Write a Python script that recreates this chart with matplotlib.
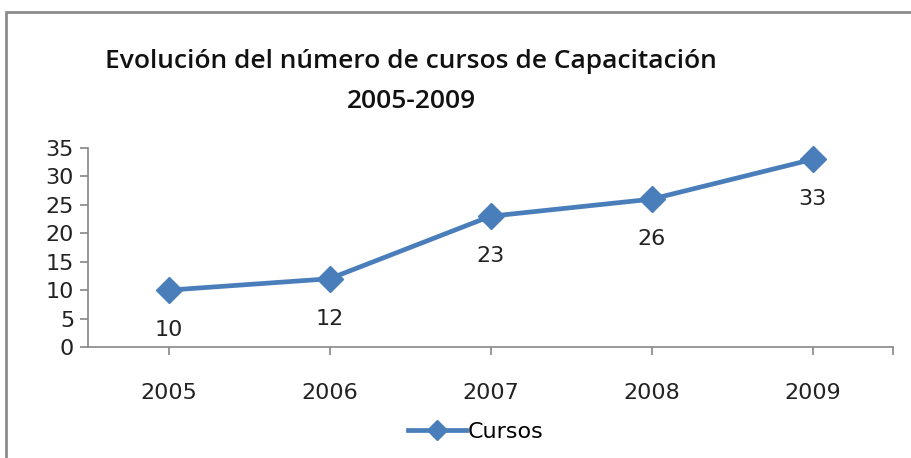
import matplotlib.pyplot as plt
from matplotlib.patches import Rectangle
from matplotlib.lines import Line2D

# data
years = ['2005', '2006', '2007', '2008', '2009']
cursos = [10, 12, 23, 26, 33]
y_ticks = [0, 5, 10, 15, 20, 25, 30, 35]

blue = '#4a7ebb'
axis_gray = '#868686'

fig = plt.figure(figsize=(9.12, 4.58), dpi=100)
fig.patch.set_facecolor('white')

# outer chart border (right and bottom are cut off in the reference)
fig.patches.append(Rectangle((6 / 912, -0.1), 1.2, 1 - 12 / 458 + 0.1,
                             transform=fig.transFigure, fill=False,
                             edgecolor='#8c8c8c', linewidth=2))

ax = fig.add_axes([88 / 912, 1 - 347 / 458, (893 - 88) / 912, (347 - 148) / 458])
x = list(range(len(years)))
ax.plot(x, cursos, color=blue, linewidth=3.4, marker='D', markersize=13,
        markerfacecolor=blue, markeredgecolor=blue, clip_on=False)

for xi, v in zip(x, cursos):
    ax.annotate(str(v), (xi, v), xytext=(0, -40), textcoords='offset pixels',
                ha='center', va='center', fontsize=16, color='#222222')

ax.set_xlim(-0.5, 4.5)
ax.set_ylim(0, 35)
ax.set_yticks(y_ticks)
ax.set_xticks(x + [4.5])
ax.set_xticklabels(years + [''])
ax.tick_params(axis='both', colors=axis_gray, labelcolor='#222222',
               labelsize=16, length=6, width=1.2)
ax.tick_params(axis='x', pad=20)
ax.tick_params(axis='y', pad=4)
for s in ['top', 'right']:
    ax.spines[s].set_visible(False)
for s in ['left', 'bottom']:
    ax.spines[s].set_color(axis_gray)
    ax.spines[s].set_linewidth(1.2)

# title
fig.text(411 / 912, 1 - 61 / 458, 'Evolución del número de cursos de Capacitación',
         ha='center', va='center', fontsize=19, fontweight='semibold',
         family='Open Sans', color='#111111')
fig.text(411 / 912, 1 - 101 / 458, '2005-2009', ha='center', va='center',
         fontsize=19, fontweight='semibold', family='Open Sans', color='#111111')

# legend
handle = Line2D([], [], color=blue, linewidth=3.4, marker='D', markersize=10)
fig.legend([handle], ['Cursos'], loc='center', bbox_to_anchor=(476 / 912, 1 - 432 / 458),
           frameon=False, fontsize=16, handlelength=2.6, handletextpad=0.1)

fig.savefig('out.png', dpi=100)
